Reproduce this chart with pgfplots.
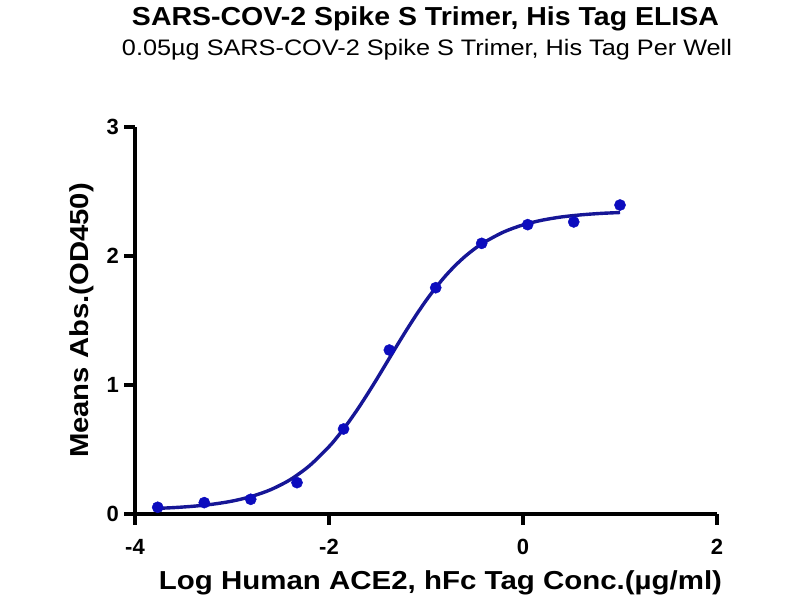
\documentclass[border=0pt]{standalone}
\usepackage{graphicx}
\usepackage{pgfplots}
\pgfplotsset{compat=1.18}
\usepackage{fontspec}
\setmainfont{Liberation Sans}
\definecolor{dotblue}{RGB}{12,12,190}
\definecolor{linenavy}{RGB}{22,22,150}
\begin{document}
\begin{tikzpicture}[x=1bp,y=1bp]
\useasboundingbox (0,0) rectangle (800,600);
\begin{axis}[
  scale only axis,
  width=582bp, height=387bp,
  at={(135bp,86bp)}, anchor=south west,
  xmin=-4, xmax=2, ymin=0, ymax=3,
  axis x line*=bottom, axis y line*=left,
  axis line style={line width=3.5bp, black},
  xtick={-4,-2,0,2}, ytick={0,1,2,3},
  xticklabels={-4,-2,0,2}, yticklabels={0,1,2,3},
  tick align=outside,
  major tick length=11bp,
  tick style={line width=3.5bp, black},
  every tick label/.append style={font=\fontsize{22bp}{26bp}\selectfont\bfseries},
  xticklabel style={inner sep=0pt, yshift=-14bp},
  yticklabel style={inner sep=0pt, xshift=-5bp},
  clip=false,
]
\addplot[linenavy, line width=3.4bp, no marks, smooth] coordinates {
(-3.77,0.0436) (-3.6,0.0495) (-3.4,0.0600) (-3.2,0.0758) (-3.0,0.0998)
(-2.8,0.1358) (-2.6,0.189) (-2.4,0.266) (-2.2,0.375) (-2.0,0.522)
(-1.9,0.611) (-1.8,0.710) (-1.7,0.818) (-1.6,0.934) (-1.5,1.055)
(-1.4,1.180) (-1.3,1.305) (-1.2,1.427) (-1.1,1.544) (-1.0,1.654)
(-0.9,1.754) (-0.8,1.845) (-0.7,1.925) (-0.6,1.995) (-0.5,2.055)
(-0.4,2.106) (-0.2,2.186) (0.0,2.241) (0.2,2.278) (0.4,2.303)
(0.6,2.319) (0.8,2.330) (1.0,2.337)
};
\addplot[only marks, mark=*, mark size=5.6bp, mark options={fill=dotblue, draw=dotblue}] coordinates {
(-3.766,0.052) (-3.286,0.088) (-2.807,0.114) (-2.330,0.243)
(-1.850,0.659) (-1.378,1.271) (-0.900,1.754) (-0.426,2.098)
(0.048,2.243) (0.523,2.264) (1.000,2.395)
};
\end{axis}
\node[anchor=base, inner sep=0pt] at (425.5,574.5) {\resizebox{587bp}{\height}{\fontsize{26bp}{30bp}\selectfont\bfseries SARS-COV-2 Spike S Trimer, His Tag ELISA}};
\node[anchor=base, inner sep=0pt] at (427,544) {\resizebox{610bp}{\height}{\fontsize{22.4bp}{26bp}\selectfont 0.05µg SARS-COV-2 Spike S Trimer, His Tag Per Well}};
\node[anchor=base, inner sep=0pt] at (440.5,10.7) {\resizebox{563bp}{\height}{\fontsize{26bp}{30bp}\selectfont\bfseries Log Human ACE2, hFc Tag Conc.(µg/ml)}};
\node[anchor=base, inner sep=0pt, rotate=90] at (88,279.5) {\resizebox{275bp}{\height}{\fontsize{26bp}{30bp}\selectfont\bfseries Means Abs.(OD450)}};
\end{tikzpicture}
\end{document}
